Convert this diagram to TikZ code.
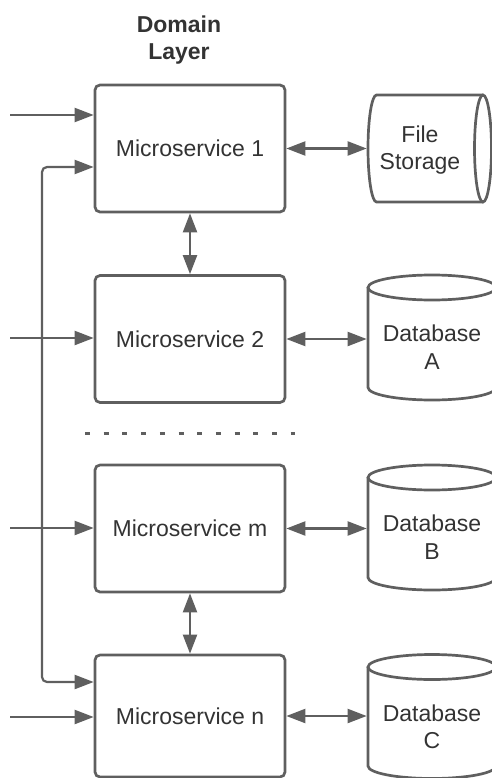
\documentclass[tikz,border=0pt]{standalone}
\usepackage{pgf,tikz}
\usepackage{fontspec}
\setmainfont{Liberation Sans}
\usetikzlibrary{arrows.meta}

\definecolor{linegray}{HTML}{5F5F5F}
\definecolor{textgray}{HTML}{333333}

\begin{document}
\begin{tikzpicture}[x=1pt,y=-1pt,line width=2.7pt,
  svc/.style={draw=linegray, rounded corners=5pt, minimum width=190pt, minimum height=127pt,
    text=textgray, font=\fontsize{23}{27.5}\selectfont},
  storebox/.style={minimum width=128pt, minimum height=125pt, inner sep=0pt},
  lbl/.style={text=textgray, align=center, font=\fontsize{23}{27.5}\selectfont},
  tip/.tip={Triangle[length=19pt,width=14pt]},
  flow/.style={draw=linegray, line width=2.2pt, -tip},
  both/.style={draw=linegray, line width=2.2pt, tip-tip}]
\useasboundingbox (0,0) rectangle (491,778);

\node[lbl, font=\bfseries\fontsize{23}{27.5}\selectfont] (title) at (179,40) {Domain\\Layer};

% services
\node[svc] (ms1) at (190,148.5) {Microservice 1};
\node[svc] (ms2) at (190,339) {Microservice 2};
\node[svc] (msm) at (190,528.5) {Microservice m};
\node[svc, minimum height=122pt] (msn) at (190,716) {Microservice n};

% file storage, lying on its side
\node[storebox, minimum width=124pt, minimum height=107pt] (fs) at (430,148.5) {};
\draw[linegray] (483,95) -- (376.5,95) arc[start angle=270, end angle=90, x radius=8.5, y radius=53.5] -- (483,202);
\draw[linegray] (483,148.5) ellipse [x radius=8.5, y radius=53.5];
\node[lbl] (fstext) at (420,150) {File\\Storage};

% database A
\node[storebox] (dba) at (432,337.5) {};
\draw[linegray] (432,287.5) ellipse [x radius=64, y radius=12.5];
\draw[linegray] (368,287.5) -- (368,387.5) arc[start angle=180, end angle=0, x radius=64, y radius=12.5] -- (496,287.5);
\node[lbl] (dbatext) at (432,347) {Database\\A};

% database B
\node[storebox] (dbb) at (432,527.5) {};
\draw[linegray] (432,477.5) ellipse [x radius=64, y radius=12.5];
\draw[linegray] (368,477.5) -- (368,577.5) arc[start angle=180, end angle=0, x radius=64, y radius=12.5] -- (496,477.5);
\node[lbl] (dbbtext) at (432,537) {Database\\B};

% database C
\node[storebox] (dbc) at (432,716.5) {};
\draw[linegray] (432,667) ellipse [x radius=64, y radius=12.5];
\draw[linegray] (368,667) -- (368,766) arc[start angle=180, end angle=0, x radius=64, y radius=12.5] -- (496,667);
\node[lbl] (dbctext) at (432,727) {Database\\C};

% incoming from the left
\coordinate (in1) at (10,115);
\coordinate (in2) at (10,338);
\coordinate (inm) at (10,528);
\coordinate (inn) at (10,717);
\draw[flow] (in1) -- (in1 -| ms1.west);
\draw[flow] (in2) -- (in2 -| ms2.west);
\draw[flow] (inm) -- (inm -| msm.west);
\draw[flow] (inn) -- (inn -| msn.west);

% bus between first and last
\coordinate (bus1) at (42,167);
\coordinate (bus2) at (42,682);
\draw[both, rounded corners=5pt] (bus1 -| ms1.west) -- (bus1) -- (bus2) -- (bus2 -| msn.west);

\draw[both] (ms1.south) -- (ms2.north);
\draw[both] (msm.south) -- (msn.north);

% to the stores
\draw[both] (ms1.east) -- (fs.west);
\draw[both] (ms2.east) -- (ms2.east -| dba.west);
\draw[both] (msm.east) -- (msm.east -| dbb.west);
\draw[both] (msn.east) -- (msn.east -| dbc.west);

\draw[linegray, line width=3pt, dash pattern=on 5pt off 13.7pt] (85,433) -- (295,433);

\end{tikzpicture}
\end{document}
